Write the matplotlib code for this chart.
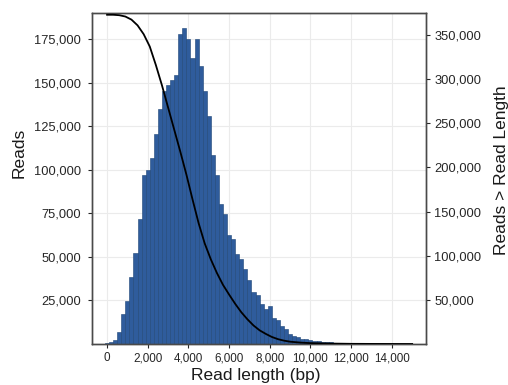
import matplotlib
matplotlib.use("Agg")
import matplotlib.pyplot as plt
import numpy as np
from matplotlib.ticker import FuncFormatter

plt.rcParams['font.family'] = ['Liberation Sans', 'DejaVu Sans']

# histogram: reads per 200 bp bin (bin centres 0, 200, 400, ...)
bin_width = 200
read_counts = [
    300, 1000, 2500, 7000, 17500, 24800, 38500, 52400, 71500, 96900,
    99600, 106500, 120400, 135000, 145400, 148500, 151600, 154400, 177700, 181600,
    175200, 163900, 175200, 159400, 145000, 131000, 108500, 97000, 80600, 74800,
    62300, 60000, 51500, 49000, 43000, 36800, 29800, 28000, 22900, 20200,
    21600, 14800, 13700, 10400, 8500, 5600, 4600, 3800, 3100, 2600,
    2100, 1800, 1500, 1200, 1000, 900, 750, 600, 500, 420,
    360, 300, 260, 220, 190, 160, 140, 120, 100, 90,
    80, 70, 60, 50, 40,
]
bin_centres = np.arange(len(read_counts)) * bin_width

# reads longer than a given length (right axis)
curve_length = [0, 300, 600, 900, 1200, 1500, 1800, 2100, 2400, 2700,
                3000, 3300, 3600, 3900, 4200, 4500, 4800, 5100, 5400, 5700,
                6000, 6300, 6600, 6900, 7200, 7500, 7800, 8100, 8400, 8700,
                9000, 9500, 10000, 11000, 12000, 13000, 14000, 15000]
reads_longer = [373000, 373000, 372500, 371000, 367500, 361000, 351000, 337000, 316000, 293000,
                268000, 243000, 218000, 192000, 164000, 137000, 114000, 96000, 80500, 67000,
                56000, 45500, 36000, 28000, 21000, 15500, 11500, 8000, 5500, 3800,
                2600, 1600, 1000, 500, 200, 100, 50, 0]

x_ticks = [0, 2000, 4000, 6000, 8000, 10000, 12000, 14000]
left_ticks = [25000, 50000, 75000, 100000, 125000, 150000, 175000]
right_ticks = [50000, 100000, 150000, 200000, 250000, 300000, 350000]

W, H = 508, 385
fig = plt.figure(figsize=(W / 100, H / 100), dpi=100)
ax = fig.add_axes([92 / W, 1 - 344 / H, (426 - 92) / W, (344 - 13) / H])

ax.bar(bin_centres, read_counts, width=bin_width, color='#2f5c9c',
       edgecolor='#1d4476', linewidth=0.4, zorder=2)

ax.set_xlim(-740, 15680)
ax.set_ylim(0, 190000)
ax.set_xticks(x_ticks)
ax.set_yticks(left_ticks)
comma = FuncFormatter(lambda v, p: f'{int(v):,}')
ax.xaxis.set_major_formatter(comma)
ax.yaxis.set_major_formatter(comma)
ax.grid(True, color='#ebebeb', linewidth=0.8)
ax.set_axisbelow(True)

ax2 = ax.twinx()
ax2.plot(curve_length, reads_longer, color='black', linewidth=1.3, zorder=3)
ax2.set_ylim(0, 375000)
ax2.set_yticks(right_ticks)
ax2.yaxis.set_major_formatter(comma)

tick_color = '#262626'
for a in (ax, ax2):
    for s in a.spines.values():
        s.set_color('#4a4a4a')
        s.set_linewidth(1.0)
ax.tick_params(axis='both', colors=tick_color, length=3, width=0.8)
ax.tick_params(axis='y', labelsize=9.3, pad=5)
ax.tick_params(axis='x', labelsize=8.4, pad=3)
ax2.tick_params(axis='y', labelsize=9.3, colors=tick_color, length=3, width=0.8, pad=3)

ax.set_xlabel('Read length (bp)', fontsize=12.5, color='#1a1a1a', va='center')
ax.xaxis.set_label_coords(0.49, -0.094)
ax.set_ylabel('Reads', fontsize=12.5, color='#1a1a1a', va='center')
ax.yaxis.set_label_coords(-0.219, 0.577)
ax2.set_ylabel('Reads > Read Length', fontsize=12.5, color='#1a1a1a', va='center', rotation=90)
ax2.yaxis.set_label_coords(1.2275, 0.526)

fig.savefig('out.png', dpi=100)
